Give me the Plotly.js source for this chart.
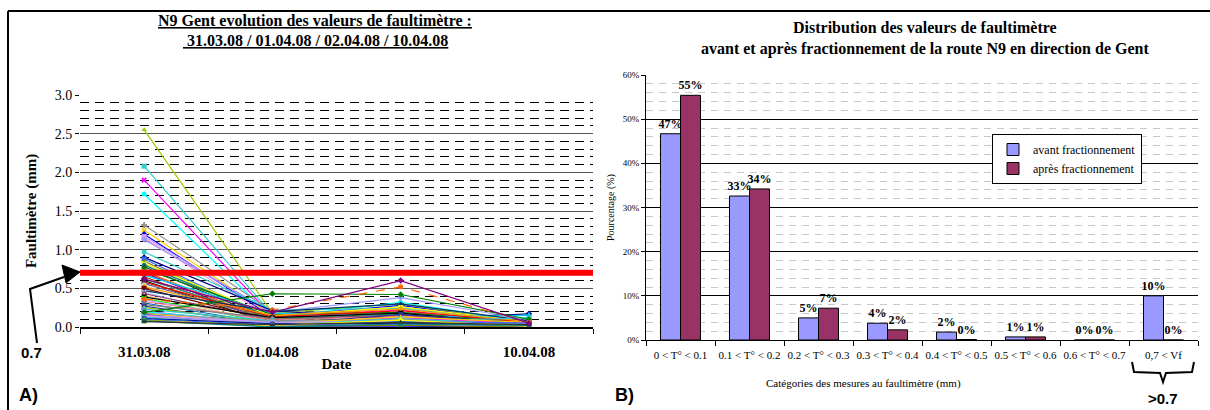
<!DOCTYPE html>
<html><head><meta charset="utf-8">
<script src="https://cdn.plot.ly/plotly-3.0.1.min.js"></script>
<style>body{margin:0;padding:0;background:#fff}#chart{width:1210px;height:410px}</style>
</head><body><div id="chart"></div>
<script>
// ---------- Panel A data: faultimeter values (mm) per measuring point ----------
const dates = ['31.03.08', '01.04.08', '02.04.08', '10.04.08'];
const v31 = [2.55, 2.08, 1.90, 1.72, 1.32, 1.25, 1.20, 1.17, 1.15, 1.13,
             0.97, 0.90, 0.88, 0.85, 0.82, 0.80, 0.78, 0.75, 0.72, 0.70,
             0.67, 0.65, 0.62, 0.60, 0.58, 0.56, 0.54, 0.52, 0.50, 0.47,
             0.45, 0.43, 0.41, 0.39, 0.37, 0.35, 0.33, 0.31, 0.29, 0.27,
             0.25, 0.23, 0.21, 0.20, 0.18, 0.17, 0.16, 0.15, 0.14, 0.13,
             0.12, 0.11, 0.10, 0.09, 0.08, 0.08, 0.07, 0.19, 0.36, 0.62];
const v01 = [0.18, 0.16, 0.14, 0.12, 0.20, 0.15, 0.13, 0.17, 0.11, 0.19,
             0.22, 0.21, 0.10, 0.09, 0.14, 0.12, 0.08, 0.16, 0.07, 0.05,
             0.18, 0.06, 0.11, 0.04, 0.13, 0.09, 0.03, 0.15, 0.08, 0.20,
             0.02, 0.10, 0.06, 0.12, 0.05, 0.07, 0.09, 0.04, 0.11, 0.03,
             0.06, 0.08, 0.02, 0.05, 0.07, 0.04, 0.01, 0.06, 0.03, 0.05,
             0.02, 0.04, 0.03, 0.01, 0.02, 0.00, 0.03, 0.43, 0.22, 0.19];
const v02 = [0.30, 0.25, 0.22, 0.32, 0.18, 0.15, 0.28, 0.12, 0.20, 0.38,
             0.24, 0.10, 0.16, 0.08, 0.26, 0.14, 0.06, 0.19, 0.11, 0.09,
             0.13, 0.05, 0.17, 0.07, 0.21, 0.04, 0.12, 0.23, 0.10, 0.30,
             0.03, 0.15, 0.08, 0.18, 0.06, 0.11, 0.14, 0.02, 0.09, 0.16,
             0.05, 0.07, 0.12, 0.04, 0.10, 0.13, 0.01, 0.08, 0.06, 0.03,
             0.11, 0.05, 0.07, 0.02, 0.09, 0.04, 0.06, 0.42, 0.52, 0.60];
const v10 = [0.05, 0.07, 0.04, 0.06, 0.08, 0.03, 0.05, 0.02, 0.06, 0.09,
             0.04, 0.17, 0.03, 0.05, 0.07, 0.02, 0.04, 0.06, 0.01, 0.03,
             0.15, 0.02, 0.05, 0.04, 0.06, 0.01, 0.03, 0.07, 0.02, 0.08,
             0.00, 0.04, 0.05, 0.03, 0.02, 0.06, 0.04, 0.01, 0.03, 0.05,
             0.02, 0.12, 0.04, 0.01, 0.03, 0.06, 0.00, 0.02, 0.04, 0.01,
             0.03, 0.02, 0.05, 0.00, 0.01, 0.02, 0.03, 0.10, 0.06, 0.05];
const threshold = 0.7;

// ---------- Panel B data: distribution (%) ----------
const categories = ['0 < T° < 0.1', '0.1 < T° < 0.2', '0.2 < T° < 0.3', '0.3 < T° < 0.4',
                    '0.4 < T° < 0.5', '0.5 < T° < 0.6', '0.6 < T° < 0.7', '0,7 < Vf'];
const avant = [46.7, 32.6, 5.0, 3.8, 1.8, 0.7, 0.0, 10.0];
const apres = [55.4, 34.2, 7.2, 2.3, 0.1, 0.7, 0.0, 0.0];

// ---------- styles ----------
const palette = ['#99CC00', '#33CCCC', '#FF00FF', '#00FFFF', '#969696', '#FFCC00', '#0000FF', '#CC99FF',
                 '#FF99CC', '#9999FF', '#33CCCC', '#000080', '#3366FF', '#808000', '#FFFF00', '#008080',
                 '#333333', '#008000', '#FF6600', '#800080', '#00CCFF', '#993300', '#339966', '#003300',
                 '#FF0000', '#666699', '#CCFFCC', '#FF9900', '#800000', '#003366', '#99CCFF', '#993366',
                 '#FFCC99', '#000000', '#00FF00', '#CC99FF', '#FF8080', '#0066CC', '#808080', '#333399'];
const symbols = ['triangle-up', 'square', 'x', 'circle', 'cross', 'x', 'diamond', 'square',
                 'triangle-up', 'diamond', 'circle', 'diamond', 'square', 'triangle-up', 'x', 'circle'];
const serif = 'Liberation Serif, Times New Roman, serif';
const sans = 'Liberation Sans, Arial, sans-serif';
const W = 1210, H = 410;
const px = x => x / W, py = y => 1 - y / H;

const traces = [];
for (let i = 0; i < v31.length; i++) {
  const c = palette[i % palette.length];
  traces.push({
    type: 'scatter', mode: 'lines+markers', xaxis: 'x', yaxis: 'y',
    x: dates, y: [v31[i], v01[i], v02[i], v10[i]],
    line: {color: c, width: 1.2, dash: (i === 58 ? 'dash' : 'solid')},
    marker: {color: c, size: 5, symbol: symbols[i % symbols.length]},
    showlegend: false, hoverinfo: 'skip'
  });
}
const pctText = arr => arr.map(v => Math.round(v) + '%');
traces.push({
  type: 'bar', name: 'avant fractionnement', xaxis: 'x2', yaxis: 'y2',
  x: categories, y: avant, text: pctText(avant), textposition: 'outside',
  textangle: 0, constraintext: 'none', cliponaxis: false,
  textfont: {family: serif, size: 12, color: '#000', weight: 'bold'},
  marker: {color: '#9999FF', line: {color: '#000', width: 1}}
});
traces.push({
  type: 'bar', name: 'après fractionnement', xaxis: 'x2', yaxis: 'y2',
  x: categories, y: apres, text: pctText(apres), textposition: 'outside',
  textangle: 0, constraintext: 'none', cliponaxis: false,
  textfont: {family: serif, size: 12, color: '#000', weight: 'bold'},
  marker: {color: '#993366', line: {color: '#000', width: 1}}
});

function P(points) { return points.map((p, k) => (k ? 'L' : 'M') + px(p[0]) + ',' + py(p[1])).join(' '); }
function label(x, y, text, family, size) {
  return {xref: 'paper', yref: 'paper', x: px(x), y: py(y), xanchor: 'center', yanchor: 'middle',
          showarrow: false, text: text, font: {family: family, size: size, color: '#000'}};
}

const layout = {
  width: W, height: H, margin: {l: 0, r: 0, t: 0, b: 0},
  paper_bgcolor: '#fff', plot_bgcolor: 'rgba(0,0,0,0)',
  font: {family: serif, color: '#000'},
  barmode: 'group', bargap: 0.42, bargroupgap: 0,
  xaxis: {
    domain: [px(80), px(593)], anchor: 'y', type: 'category', range: [-0.5, 3.5],
    showline: true, linecolor: '#000', linewidth: 1.5, tickson: 'boundaries',
    ticks: 'outside', ticklen: 5, tickcolor: '#000', ticklabelstandoff: 10,
    tickfont: {family: serif, size: 15, weight: 'bold'}, showgrid: false,
    title: {text: '<b>Date</b>', font: {family: serif, size: 15}, standoff: 0}
  },
  yaxis: {
    domain: [py(327), py(95)], anchor: 'x', range: [0, 3.0], dtick: 0.5, tickformat: '.1f',
    showline: false, zeroline: false, ticks: 'outside', ticklen: 4, tickcolor: '#000',
    tickfont: {family: serif, size: 14},
    showgrid: true, gridcolor: '#555', gridwidth: 1,
    minor: {dtick: 0.1, showgrid: true, gridcolor: '#000', griddash: '9px,6px', gridwidth: 1},
    title: {text: '<b>Faultimètre (mm)</b>', font: {family: serif, size: 15}, standoff: 14}
  },
  xaxis2: {
    domain: [px(646), px(1198)], anchor: 'y2', type: 'category',
    showline: true, linecolor: '#000', linewidth: 1, tickson: 'boundaries',
    ticks: 'outside', ticklen: 5, tickcolor: '#000', ticklabelstandoff: 5, tickangle: 0,
    tickfont: {family: serif, size: 11}, showgrid: false
  },
  yaxis2: {
    domain: [py(340), py(75)], anchor: 'x2', range: [0, 60], dtick: 10, ticksuffix: '%',
    showline: true, linecolor: '#000', linewidth: 1, zeroline: false,
    ticks: 'outside', ticklen: 4, tickcolor: '#000', tickfont: {family: serif, size: 9},
    showgrid: true, gridcolor: '#000', gridwidth: 1,
    minor: {dtick: 2, showgrid: true, gridcolor: '#c8c8c8', griddash: '7px,6px', gridwidth: 1},
    title: {text: 'Pourcentage (%)', font: {family: serif, size: 10}, standoff: 6}
  },
  legend: {
    x: px(992), y: py(134), xanchor: 'left', yanchor: 'top',
    bgcolor: '#fff', bordercolor: '#000', borderwidth: 1,
    font: {family: serif, size: 12}
  },
  shapes: [
    {type: 'line', xref: 'x domain', yref: 'y', x0: 0, x1: 1, y0: threshold, y1: threshold,
     line: {color: '#FF0000', width: 6}},
    {type: 'line', xref: 'paper', yref: 'paper', x0: px(8), x1: 1, y0: py(11), y1: py(11), line: {color: '#000', width: 2}},
    {type: 'line', xref: 'paper', yref: 'paper', x0: px(8), x1: px(8), y0: py(11), y1: 0, line: {color: '#000', width: 2}},
    {type: 'path', xref: 'paper', yref: 'paper', path: P([[37, 343], [30, 289], [64, 277]]), line: {color: '#000', width: 2}},
    {type: 'path', xref: 'paper', yref: 'paper', path: P([[80, 272], [62, 265], [66, 283]]) + ' Z',
     fillcolor: '#000', line: {color: '#000', width: 1}},
    {type: 'path', xref: 'paper', yref: 'paper',
     path: P([[1132, 362], [1134, 372], [1160, 373], [1163, 382], [1166, 373], [1192, 372], [1194, 362]]),
     line: {color: '#000', width: 2}}
  ],
  annotations: [
    label(315, 20, '<b><u>N9 Gent evolution des valeurs de faultimètre :</u></b>', serif, 16),
    label(315, 41, '<b><u> 31.03.08 / 01.04.08 / 02.04.08 / 10.04.08</u></b>', serif, 16),
    label(925, 27, '<b>Distribution des valeurs de faultimètre</b>', serif, 16),
    label(925, 49, '<b>avant et après fractionnement de la route N9 en direction de Gent</b>', serif, 16),
    label(863, 383, 'Catégories des mesures au faultimètre (mm)', serif, 11),
    label(31, 352, '<b>0.7</b>', sans, 15),
    label(28, 395, '<b>A)</b>', sans, 18),
    label(625, 395, '<b>B)</b>', sans, 18),
    label(1163, 398, '<b>&gt;0.7</b>', sans, 15)
  ]
};

Plotly.newPlot('chart', traces, layout, {staticPlot: true, displayModeBar: false});
</script></body></html>
